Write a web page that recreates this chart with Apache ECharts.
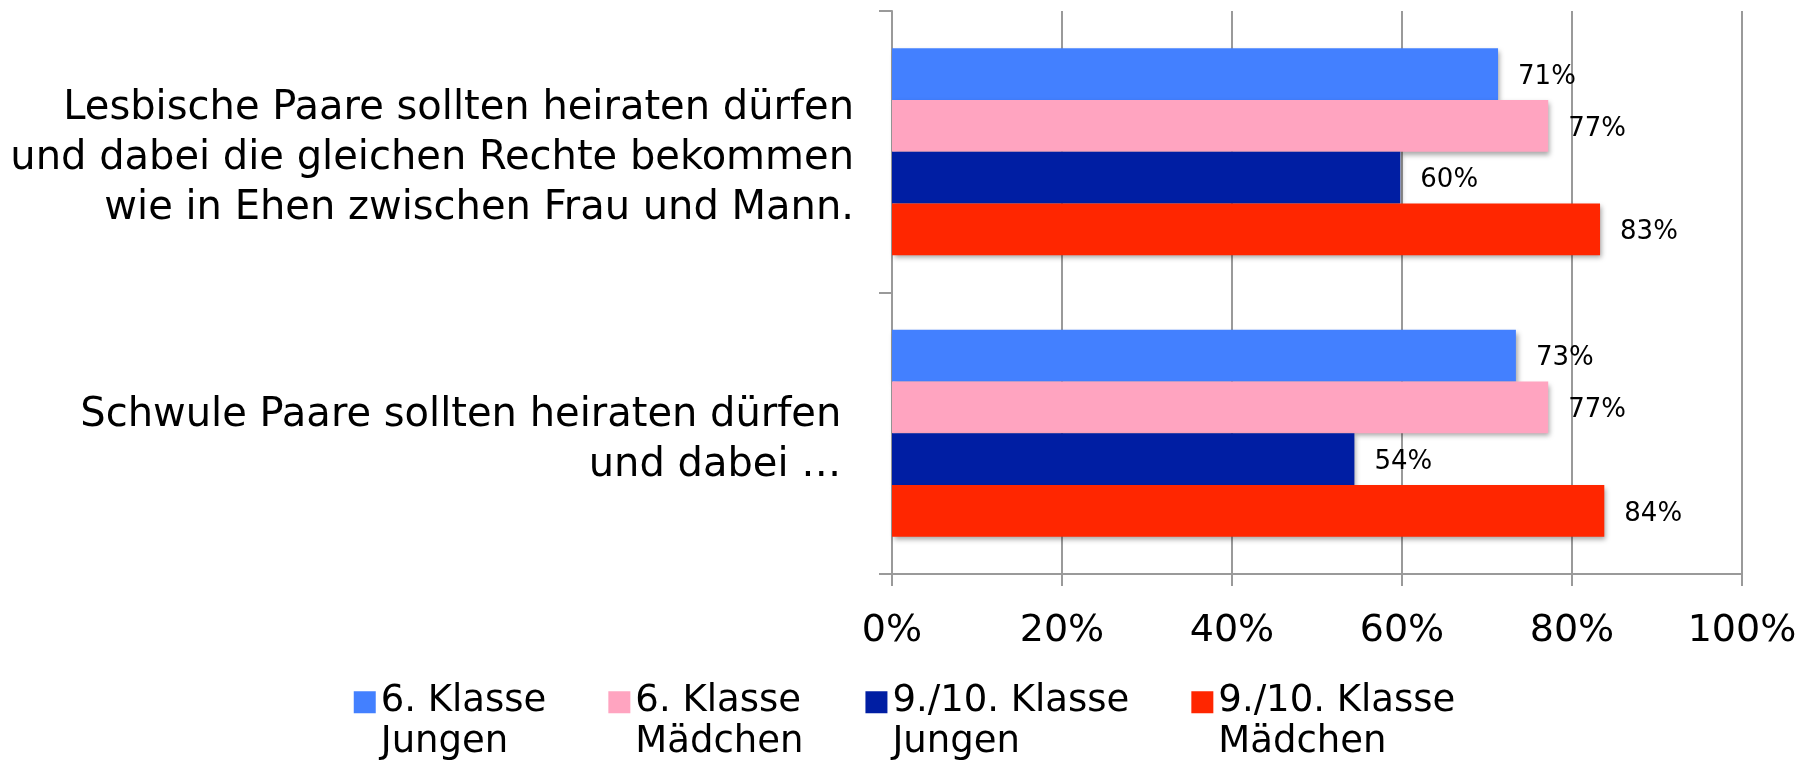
<!DOCTYPE html>
<html>
<head>
<meta charset="utf-8">
<style>
  html, body { margin: 0; padding: 0; background: #fff; }
  #chart { width: 1809px; height: 760px; }
</style>
<script src="https://cdn.jsdelivr.net/npm/echarts@6/dist/echarts.min.js"></script>
</head>
<body>
<div id="chart"></div>
<script>
// Zustimmung zur Ehe für lesbische / schwule Paare, nach Klasse und Geschlecht.
const categories = [
  'Lesbische Paare sollten heiraten dürfen\nund dabei die gleichen Rechte bekommen\nwie in Ehen zwischen Frau und Mann.',
  'Schwule Paare sollten heiraten dürfen \nund dabei … ',
];
const seriesNames = [
  '6. Klasse\nJungen',
  '6. Klasse\nMädchen',
  '9./10. Klasse\nJungen',
  '9./10. Klasse\nMädchen',
];
const klasse6Jungen = [71.3, 73.4];
const klasse6Maedchen = [77.2, 77.2];
const klasse910Jungen = [59.8, 54.4];
const klasse910Maedchen = [83.3, 83.8];
const xTicks = [0, 20, 40, 60, 80, 100];

const COLORS = ['#4380ff', '#ffa4c0', '#001ea3', '#ff2600'];
const FONT = '"DejaVu Sans", Verdana, sans-serif';
const GRAY = '#9a9a9a';

const values = [klasse6Jungen, klasse6Maedchen, klasse910Jungen, klasse910Maedchen];

// square at the top, empty room below so the swatch lines up with the first text line
const LEGEND_ICON = 'path://M0,0H10V10H0Z M0,28L0,28';

const chart = echarts.init(document.getElementById('chart'), null, { renderer: 'canvas' });

chart.setOption({
  backgroundColor: '#fff',
  animation: false,
  textStyle: { fontFamily: FONT, color: '#000' },
  color: COLORS,
  grid: { left: 892, right: 67, top: 11, bottom: 186, containLabel: false },
  legend: {
    data: seriesNames.map((name) => ({ name, icon: LEGEND_ICON })),
    top: 676,
    left: 'center',
    itemWidth: 22,
    itemHeight: 62,
    itemGap: 62,
    textStyle: {
      fontFamily: FONT,
      fontSize: 37,
      color: '#000',
      lineHeight: 41,
    },
  },
  xAxis: {
    type: 'value',
    min: xTicks[0],
    max: xTicks[xTicks.length - 1],
    interval: xTicks[1] - xTicks[0],
    axisLine: { show: true, lineStyle: { color: GRAY, width: 2 } },
    axisTick: { show: true, length: 12, lineStyle: { color: GRAY, width: 2 } },
    axisLabel: {
      formatter: '{value}%',
      fontFamily: FONT,
      fontSize: 38,
      color: '#000',
      margin: 38,
    },
    splitLine: { show: true, lineStyle: { color: GRAY, width: 2 } },
  },
  yAxis: {
    type: 'category',
    inverse: true,
    data: categories,
    axisLine: { show: true, lineStyle: { color: GRAY, width: 2 } },
    axisTick: { show: true, length: 13, lineStyle: { color: GRAY, width: 2 } },
    axisLabel: {
      fontFamily: FONT,
      fontSize: 40,
      lineHeight: 50,
      color: '#000',
      align: 'right',
      margin: 38,
      // a short empty first line nudges the text block a little downwards
      formatter: (v) => '{s| }\n' + v,
      rich: { s: { fontSize: 8, lineHeight: 14 } },
    },
  },
  series: seriesNames.map((name, i) => ({
    name,
    type: 'bar',
    data: values[i],
    barGap: '0%',
    barCategoryGap: '26.5%',
    itemStyle: {
      color: COLORS[i],
      shadowColor: 'rgba(0, 0, 0, 0.35)',
      shadowBlur: 5,
      shadowOffsetX: 2,
      shadowOffsetY: 3,
    },
    label: {
      show: true,
      position: 'right',
      distance: 20,
      offset: [0, 3],
      fontFamily: FONT,
      fontSize: 26,
      color: '#000',
      formatter: (p) => Math.round(p.value) + '%',
    },
  })),
});
</script>
</body>
</html>
